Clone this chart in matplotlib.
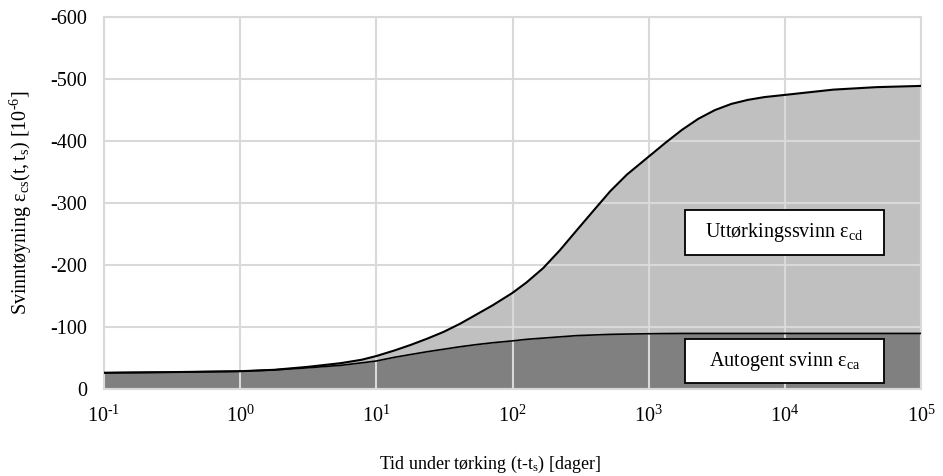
import matplotlib
matplotlib.use("Agg")
from matplotlib import pyplot as plt
from matplotlib.patches import Rectangle
from matplotlib.ticker import FuncFormatter, NullLocator
import numpy as np

# tid under tørking (t-ts) [dager] og svinntøyning [10^-6]
t_days = [0.1, 0.3, 1, 1.78, 3.12, 5.47, 7.8, 10, 13.6, 17.9, 23.6, 31.2, 41.1,
          54.3, 71.6, 100, 127, 168, 223, 296, 394, 521, 692, 1000, 1322, 1750,
          2312, 3057, 4042, 5344, 7075, 10000, 12700, 22600, 46800, 100000]
eps_cs = [-26, -27, -28.5, -30.8, -35.5, -41.5, -47, -53, -62, -71, -81, -92,
          -105, -120, -135, -155, -172, -195, -224, -256, -288, -319, -346,
          -375, -397, -418, -436, -450, -460, -466.5, -471, -474.5, -477,
          -483, -487, -489]
eps_ca = [-26, -27, -28.5, -30.6, -34, -38, -42, -45, -51, -55.5, -60, -64,
          -68, -71.5, -74.5, -77.5, -80, -82, -84, -86, -87, -88, -88.5, -89,
          -89.3, -89.5, -89.5, -89.5, -89.5, -89.5, -89.5, -89.5, -89.5,
          -89.5, -89.5, -89.5]

y_ticks = [0, -100, -200, -300, -400, -500, -600]
x_ticks = [1e-1, 1e0, 1e1, 1e2, 1e3, 1e4, 1e5]

HY = '\u2010'  # bindestrek i eksponenter, som i originalen

plt.rcParams['font.family'] = ['Liberation Serif', 'DejaVu Serif']
plt.rcParams['mathtext.fontset'] = 'custom'
plt.rcParams['mathtext.rm'] = 'Liberation Serif'
plt.rcParams['mathtext.it'] = 'Liberation Serif:italic'
plt.rcParams['axes.unicode_minus'] = False

fig = plt.figure(figsize=(9.43, 4.76), dpi=100)
ax = fig.add_axes([0.110, 0.183, 0.867, 0.781])

ax.fill_between(t_days, 0, eps_ca, color='#808080', lw=0, zorder=1)
ax.fill_between(t_days, eps_ca, eps_cs, color='#c0c0c0', lw=0, zorder=1)
ax.plot(t_days, eps_cs, color='black', lw=1.5, zorder=3)
ax.plot(t_days, eps_ca, color='black', lw=1.2, zorder=3)

ax.set_xscale('log')
ax.set_xlim(1e-1, 1e5)
ax.set_ylim(0, -600)
ax.set_xticks(x_ticks)
ax.set_yticks(y_ticks)
ax.xaxis.set_minor_locator(NullLocator())


def fmt_x(v, pos):
    e = int(round(np.log10(v)))
    s = str(e).replace('-', HY)
    return r'$\mathrm{10^{' + s + '}}$'


ax.xaxis.set_major_formatter(FuncFormatter(fmt_x))
ax.yaxis.set_major_formatter(FuncFormatter(lambda v, p: f"{int(v)}"))

ax.set_axisbelow(False)
ax.grid(True, color='#d9d9d9', lw=1.5, zorder=2)
for s in ax.spines.values():
    s.set_color('#d9d9d9')
    s.set_linewidth(1.5)
ax.tick_params(length=0, labelsize=14.5, colors='black')
ax.tick_params(axis='x', pad=12)
ax.tick_params(axis='y', pad=12)

ax.set_ylabel(r'Svinntøyning $\mathrm{ε_{cs}(t,t_s)}$ [10$^{\mathrm{' + HY + '6}}$]',
              fontsize=14.5, labelpad=12)
ax.set_xlabel(r'Tid under tørking (t-t$_{\mathrm{s}}$) [dager]', fontsize=13)
ax.xaxis.set_label_coords(0.472, -0.175)

# tekstbokser
boxes = [(0.481, 0.360, r'Uttørkingssvinn $\mathrm{ε_{cd}}$'),
         (0.134, 0.015, r'Autogent svinn $\mathrm{ε_{ca}}$')]
for top, bottom, label in boxes:
    ax.add_patch(Rectangle((0.711, bottom), 0.243, top - bottom,
                           transform=ax.transAxes, facecolor='white',
                           edgecolor='black', lw=1.3, zorder=4))
    ax.text(0.711 + 0.243 / 2, (top + bottom) / 2, label, transform=ax.transAxes,
            ha='center', va='center', fontsize=14.5, zorder=5)

fig.savefig('out.png', dpi=100)
